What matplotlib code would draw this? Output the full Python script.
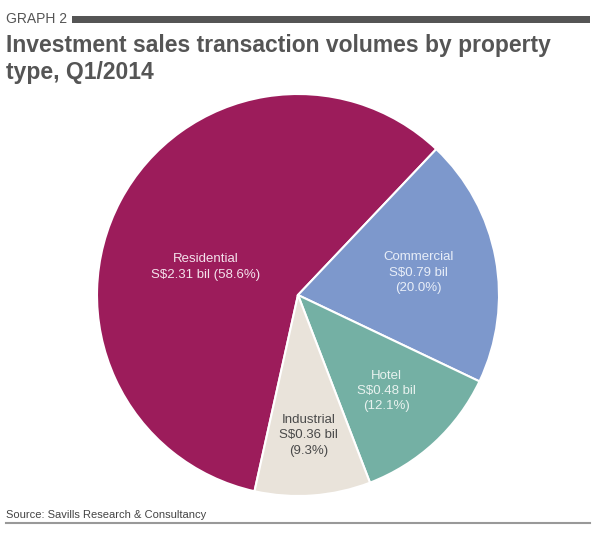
import matplotlib
matplotlib.use("Agg")
import matplotlib.pyplot as plt
import numpy as np

plt.rcParams['font.family'] = ['Liberation Sans', 'DejaVu Sans']

categories = ["Residential", "Commercial", "Hotel", "Industrial"]
values_bil = [2.31, 0.79, 0.48, 0.36]
shares = [58.6, 20.0, 12.1, 9.3]
colors = ["#9C1C5B", "#7D98CC", "#74B0A4", "#E9E3DA"]
text_colors = ["#F4E2EC", "#E8EEF8", "#E8F2EF", "#4A4A4A"]
label_lines = [
    "Residential\nS$2.31 bil (58.6%)",
    "Commercial\nS$0.79 bil\n(20.0%)",
    "Hotel\nS$0.48 bil\n(12.1%)",
    "Industrial\nS$0.36 bil\n(9.3%)",
]

W, H = 599, 533
fig = plt.figure(figsize=(W / 100, H / 100), dpi=100)

# header
fig.text(6 / W, 1 - 19 / H, "GRAPH 2", fontsize=10, color="#555555", va="center", ha="left")
fig.add_artist(plt.Rectangle((72 / W, 1 - 23 / H), (590 - 72) / W, 7 / H,
                             transform=fig.transFigure, color="#555555", lw=0))
fig.text(6 / W, 1 - 59 / H, "Investment sales transaction volumes by property\ntype, Q1/2014",
         fontsize=16.5, fontweight="bold", color="#555555", va="center", ha="left",
         linespacing=1.22)

# footer
fig.text(6 / W, 1 - 515 / H, "Source: Savills Research & Consultancy", fontsize=8,
         color="#444444", va="center", ha="left")
fig.add_artist(plt.Line2D([6 / W, 590 / W], [1 - 523 / H, 1 - 523 / H],
                          transform=fig.transFigure, color="#999999", lw=1.5))

cx, cy, r = 298, 295, 201
ax = fig.add_axes([(cx - r) / W, (H - cy - r) / H, 2 * r / W, 2 * r / H])

wedges, _ = ax.pie(shares, colors=colors, startangle=257.5, counterclock=False,
                   radius=1.0, wedgeprops=dict(edgecolor="white", linewidth=1.5))
ax.set_xlim(-1, 1)
ax.set_ylim(-1, 1)
ax.set_aspect("equal")
ax.axis("off")

# label placement (angle offset deg, radial fraction)
label_pos = [(11, 0.48), (0, 0.61), (0, 0.65), (0, 0.70)]
for w, txt, tc, (da, rf) in zip(wedges, label_lines, text_colors, label_pos):
    mid = np.deg2rad((w.theta1 + w.theta2) / 2 + da)
    ax.text(rf * np.cos(mid), rf * np.sin(mid), txt, ha="center", va="center",
            fontsize=9.5, color=tc, linespacing=1.38)

fig.savefig("out.png", dpi=100)
